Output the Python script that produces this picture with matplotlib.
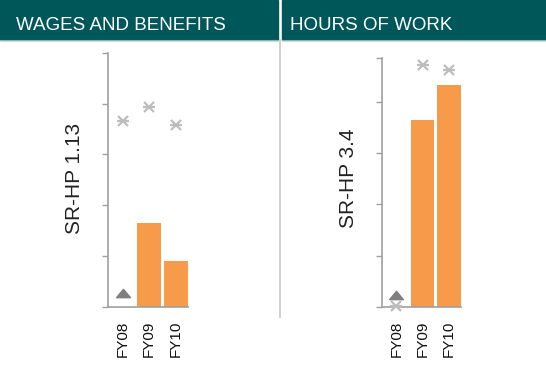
import matplotlib
matplotlib.use("Agg")
import matplotlib.pyplot as plt
from matplotlib.patches import Rectangle
from matplotlib.lines import Line2D

plt.rcParams['font.family'] = ['Liberation Sans', 'DejaVu Sans']

# data
years = ["FY08", "FY09", "FY10"]

wages_bars = [0.0, 1.64, 0.90]
wages_tri = [0.26]
wages_star = [3.66, 3.94, 3.58]

hours_bars = [0.0, 3.65, 4.34]
hours_tri = [0.23]
hours_star = [0.02, 4.72, 4.62]

panels = [
    ("WAGES AND BENEFITS", "SR-HP 1.13", wages_bars, wages_tri, wages_star, 5.0),
    ("HOURS OF WORK", "SR-HP 3.4", hours_bars, hours_tri, hours_star, 4.86),
]

TEAL = "#00575a"
ORANGE = "#f79a4a"
GREY = "#a0a0a0"
W, H = 546, 372

fig = plt.figure(figsize=(W / 100, H / 100), dpi=100)


def px(x0, y0, x1, y1):
    # pixel box (top-left origin) -> figure fraction rect
    return [x0 / W, 1 - y1 / H, (x1 - x0) / W, (y1 - y0) / H]


# header bands
for x0, x1 in [(0, 277.7), (282.3, W)]:
    fig.patches.append(Rectangle((x0 / W, 1 - 39.5 / H), (x1 - x0) / W, 39.5 / H,
                                 transform=fig.transFigure, color=TEAL, zorder=0))
    fig.lines.append(Line2D([x0 / W, x1 / W], [1 - 39.5 / H] * 2, transform=fig.transFigure,
                            color="#8fb3b3", lw=0.8))
# divider
fig.lines.append(Line2D([280 / W] * 2, [1 - 39.5 / H, 1 - 317 / H], transform=fig.transFigure,
                        color="#c8c8c8", lw=1.2))

boxes = [px(107.7, 52.7, 188, 306.7), px(381.7, 58, 461, 306.7)]
title_x = [16, 290]
label_x = [75, 348]
tri = [(-1, -0.6), (1, -0.6), (0, 0.6), (-1, -0.6)]

for i, (title, ylab, bars, tris, stars, top) in enumerate(panels):
    fig.text(title_x[i] / W, 1 - 30 / H, title, color="white", fontsize=13.5, va="baseline")
    fig.text(label_x[i] / W, 1 - 178 / H, ylab, rotation=90, fontsize=15, color="#222222",
             ha="center", va="center")

    ax = fig.add_axes(boxes[i])
    x = list(range(len(years)))
    ax.bar(x, bars, width=0.9, color=ORANGE, zorder=2)
    ax.plot(x[:len(tris)], tris, linestyle="none", marker=tri, markersize=10,
            color="#7f7f7f", zorder=3, clip_on=False)
    # star = x with a horizontal bar through it
    for m, ms in (("x", 6.5), ("_", 8)):
        ax.plot(x, stars, linestyle="none", marker=m, markersize=ms,
                markeredgewidth=1.6, color="#bdbdbd", zorder=3, clip_on=False)

    ax.set_xlim(-0.56, 2.46)
    ax.set_ylim(0, top)
    ax.set_yticks([0, 1, 2, 3, 4, top])
    ax.set_yticklabels([])
    ax.set_xticks(x)
    ax.set_xticklabels(years, rotation=90, fontsize=11, color="#111111")
    ax.tick_params(axis="x", length=0, pad=10)
    ax.tick_params(axis="y", direction="out", length=4.5, width=1, color=GREY)
    for s in ("top", "right"):
        ax.spines[s].set_visible(False)
    for s in ("left", "bottom"):
        ax.spines[s].set_color(GREY)
        ax.spines[s].set_linewidth(1.2)
    ax.patch.set_alpha(0)

fig.savefig("out.png", dpi=100)
